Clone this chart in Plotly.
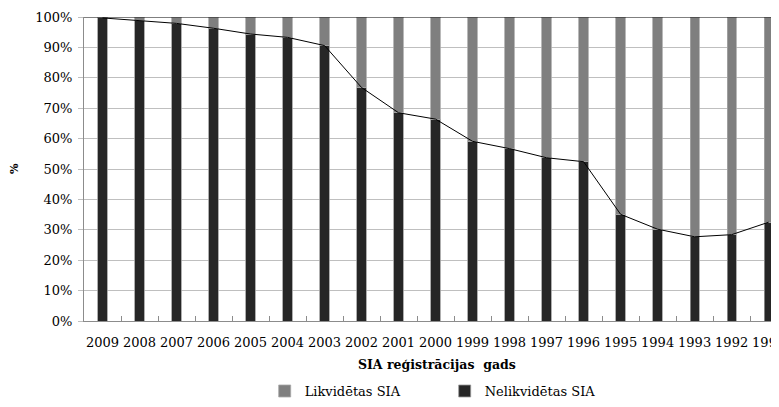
import plotly.graph_objects as go

years = ["2009", "2008", "2007", "2006", "2005", "2004", "2003", "2002", "2001", "2000",
         "1999", "1998", "1997", "1996", "1995", "1994", "1993", "1992", "1991"]
nelikvidetas = [99.7, 98.7, 97.9, 96.3, 94.4, 93.3, 90.6, 76.8, 68.5, 66.4,
                59.1, 56.7, 53.7, 52.4, 35.1, 30.2, 27.7, 28.4, 32.5]
likvidetas = [round(100 - v, 1) for v in nelikvidetas]

FONT = "DejaVu Serif"
DARK = "#262626"
GRAY = "#7f7f7f"

fig = go.Figure()
fig.add_trace(go.Bar(
    x=years, y=nelikvidetas, name="Nelikvidētas SIA",
    marker=dict(color=DARK, line=dict(color="#9a9a9a", width=0.8)),
    width=0.25,
))
fig.add_trace(go.Bar(
    x=years, y=likvidetas, name="Likvidētas SIA",
    marker=dict(color=GRAY, line=dict(color="#a8a8a8", width=0.8)),
    width=0.25,
))
fig.add_trace(go.Scatter(
    x=years, y=nelikvidetas, mode="lines",
    line=dict(color="#000000", width=1), showlegend=False, hoverinfo="skip",
))

fig.update_layout(
    width=771, height=399,
    margin=dict(l=76, r=0, t=9, b=86, autoexpand=False),
    paper_bgcolor="white", plot_bgcolor="white",
    barmode="stack",
    font=dict(family=FONT, color="#000000", size=13),
    showlegend=True,
    legend=dict(
        orientation="h", x=0.26, xanchor="left",
        yref="container", y=0.040, yanchor="middle",
        traceorder="reversed", font=dict(size=13, family=FONT),
        itemwidth=30, entrywidth=135, bgcolor="rgba(0,0,0,0)",
    ),
    xaxis=dict(
        type="category", range=[-0.5, 18.28],
        showgrid=False, showline=True, linecolor="#8c8c8c", linewidth=1,
        ticks="inside", tickson="boundaries", ticklen=5, tickcolor="#8c8c8c",
        tickangle=0, tickfont=dict(size=13, family=FONT), automargin=False,
        ticklabelstandoff=9,
    ),
    yaxis=dict(
        range=[0, 100], dtick=10, ticksuffix="%",
        showgrid=True, gridcolor="#bfbfbf", gridwidth=1,
        showline=True, linecolor="#8c8c8c", linewidth=1,
        ticks="outside", ticklen=5, tickcolor="#bfbfbf",
        tickfont=dict(size=13, family=FONT), automargin=False, zeroline=False,
        ticklabelstandoff=3,
    ),
    shapes=[dict(type="line", xref="paper", yref="y", x0=0, x1=1, y0=100, y1=100,
                 line=dict(color="#000000", width=1.2), layer="above")],
    annotations=[
        dict(text="<b>SIA reģistrācijas  gads</b>", xref="paper", yref="paper",
             x=0.508, y=-0.142, xanchor="center", yanchor="middle", showarrow=False,
             font=dict(size=12.5, family=FONT)),
        dict(text="<b>%</b>", xref="paper", yref="paper", x=-0.1007, y=0.5,
             xanchor="center", yanchor="middle", textangle=-90, showarrow=False,
             font=dict(size=11, family=FONT)),
    ],
)

fig.write_html("out.html")
